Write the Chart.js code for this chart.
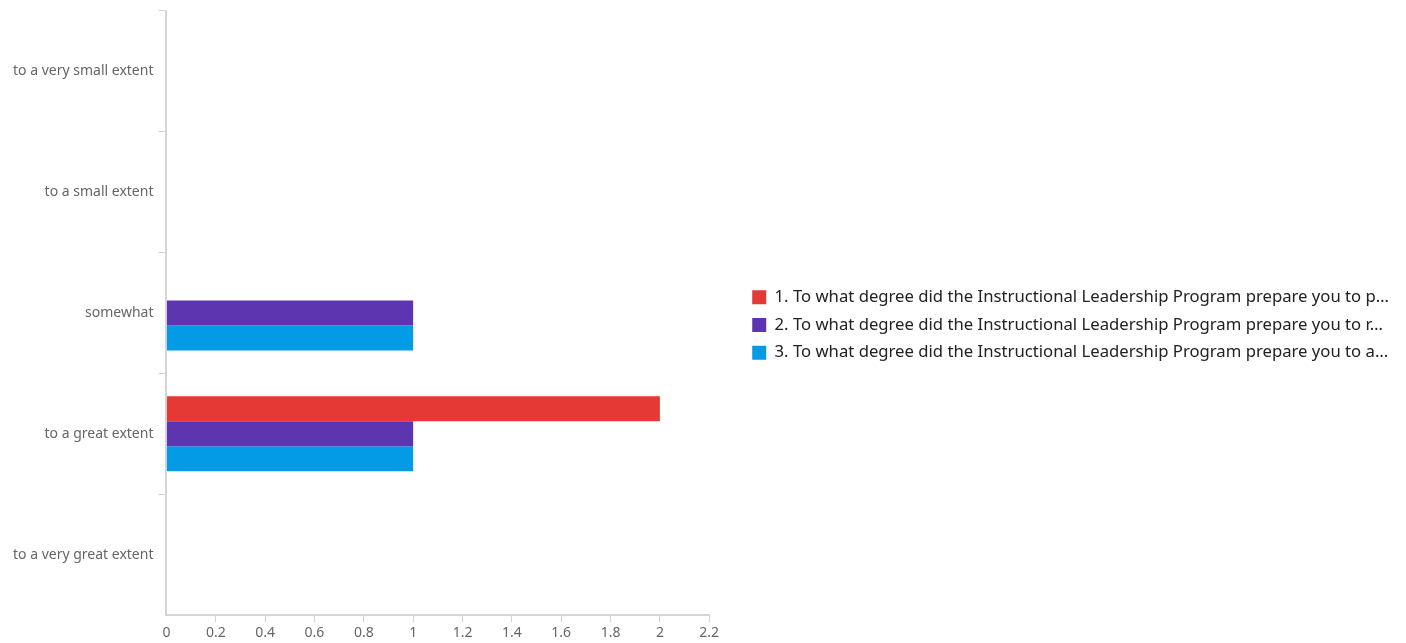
<!DOCTYPE html>
<html>
<head>
<meta charset="utf-8">
<script src="https://cdn.jsdelivr.net/npm/chart.js@4"></script>
<style>
  html, body { margin: 0; padding: 0; background: #fff; }
  #wrap { width: 1406px; height: 643px; }
</style>
</head>
<body>
<div id="wrap"><canvas id="c" width="1406" height="643"></canvas></div>
<script>
const categories = ["to a very small extent", "to a small extent", "somewhat", "to a great extent", "to a very great extent"];
const seriesLabels = [
  "1. To what degree did the Instructional Leadership Program prepare you to p…",
  "2. To what degree did the Instructional Leadership Program prepare you to r…",
  "3. To what degree did the Instructional Leadership Program prepare you to a…"
];
const series1 = [0, 0, 0, 2, 0];
const series2 = [0, 0, 1, 1, 0];
const series3 = [0, 0, 1, 1, 0];
const colors = ["#e53935", "#5e35b1", "#039be5"];

const fontFamily = "'Noto Sans', 'Open Sans', sans-serif";
const axisGray = '#d4d4d4';

// widen the legend box to leave a gap between the plot and the legend items
const legendGap = {
  id: 'legendGap',
  beforeInit(chart) {
    const lg = chart.legend;
    if (!lg) return;
    const fit = lg.fit;
    lg.fit = function () { fit.call(this); this.width += 31; };
  },
  afterLayout(chart) {
    const lg = chart.legend;
    if (!lg) return;
    lg.left += 32;
    lg.top -= 1;
    lg.bottom -= 1;
  }
};

new Chart(document.getElementById('c'), {
  type: 'bar',
  data: {
    labels: categories,
    datasets: [series1, series2, series3].map((d, i) => ({
      label: seriesLabels[i],
      data: d,
      backgroundColor: colors[i],
      borderWidth: 0,
      categoryPercentage: 0.62,
      barPercentage: 1.0
    }))
  },
  plugins: [legendGap],
  options: {
    indexAxis: 'y',
    responsive: false,
    animation: false,
    devicePixelRatio: 1,
    layout: { padding: { top: 9, left: 8, right: 8, bottom: 0 } },
    plugins: {
      legend: {
        position: 'right',
        align: 'center',
        maxWidth: 760,
        labels: {
          boxWidth: 14,
          boxHeight: 14,
          padding: 11,
          color: '#222',
          font: { family: fontFamily, size: 16.7 }
        }
      },
      tooltip: { enabled: false }
    },
    scales: {
      x: {
        min: 0,
        max: 2.2,
        ticks: {
          stepSize: 0.2,
          color: '#666',
          font: { family: fontFamily, size: 14 },
          padding: 2,
          callback: v => Math.round(v * 10) / 10
        },
        grid: {
          drawOnChartArea: false,
          drawTicks: true,
          tickLength: 7,
          color: ctx => (ctx.index === 0 ? 'rgba(0,0,0,0)' : axisGray)
        },
        border: { color: axisGray, width: 2 }
      },
      y: {
        ticks: {
          color: '#666',
          font: { family: fontFamily, size: 14, lineHeight: 0.8 },
          padding: 5
        },
        grid: {
          offset: true,
          drawOnChartArea: false,
          drawTicks: true,
          tickLength: 8,
          color: ctx => (ctx.type !== 'tick' ? 'rgba(0,0,0,0)' : axisGray)
        },
        border: { color: axisGray, width: 2 }
      }
    }
  }
});
</script>
</body>
</html>
